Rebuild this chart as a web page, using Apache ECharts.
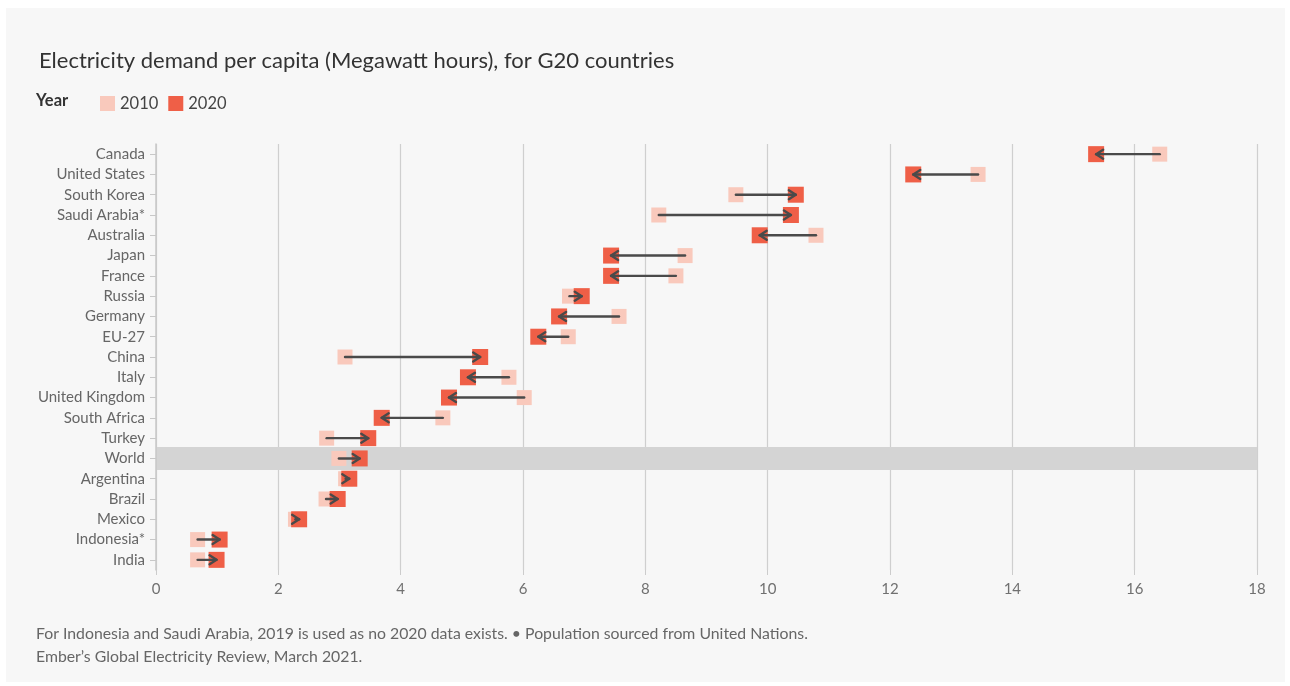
<!DOCTYPE html>
<html>
<head>
<meta charset="utf-8">
<script src="https://cdn.jsdelivr.net/npm/echarts@6/dist/echarts.min.js"></script>
<style>
html,body{margin:0;padding:0;background:#ffffff;}
#card{position:absolute;left:6px;top:8px;width:1279px;height:674px;background:#f7f7f7;}
#chart{position:absolute;left:0;top:0;width:1290px;height:686px;}
</style>
</head>
<body>
<div id="card"></div>
<div id="chart"></div>
<script>
const countries = ['Canada','United States','South Korea','Saudi Arabia*','Australia','Japan','France','Russia','Germany','EU-27','China','Italy','United Kingdom','South Africa','Turkey','World','Argentina','Brazil','Mexico','Indonesia*','India'];
const values2010 = [16.41,13.44,9.48,8.22,10.79,8.65,8.50,6.76,7.57,6.74,3.09,5.77,6.02,4.69,2.79,2.99,3.10,2.78,2.28,0.68,0.68];
const values2020 = [15.37,12.38,10.46,10.38,9.87,7.44,7.44,6.96,6.59,6.25,5.30,5.10,4.79,3.69,3.47,3.33,3.16,2.97,2.34,1.04,0.99];
const xTicks = [0,2,4,6,8,10,12,14,16,18];
const highlight = 'World';

const FONT = 'Lato, "Source Sans Pro", "Noto Sans", sans-serif';
const chart = echarts.init(document.getElementById('chart'), null, {renderer:'canvas'});

const pts2010 = countries.map((c,i)=>[values2010[i], c]);
const pts2020 = countries.map((c,i)=>[values2020[i], c]);
const arrows = countries.map((c,i)=>[values2010[i], c, values2020[i]]);

const option = {
  backgroundColor: 'transparent',
  animation: false,
  textStyle: {fontFamily: FONT},
  title: {
    text: 'Electricity demand per capita (Megawatt hours), for G20 countries',
    left: 34, top: 45,
    textStyle: {fontFamily: FONT, fontSize: 22, fontWeight: 'normal', color: '#333333'}
  },
  legend: {
    left: 95, top: 90,
    icon: 'rect', itemWidth: 15, itemHeight: 15, itemGap: 10, itemStyle: {opacity: 1},
    data: ['2010','2020'],
    textStyle: {fontFamily: FONT, fontSize: 16.5, color: '#444444'}
  },
  graphic: [
    {type:'text', left: 36, top: 92, style:{text:'Year', font:'bold 16.5px ' + FONT, fill:'#333333'}},
    {type:'text', left: 36, top: 626, style:{text:'For Indonesia and Saudi Arabia, 2019 is used as no 2020 data exists. \u2022 Population sourced from United Nations.', font:'15.8px ' + FONT, fill:'#666666'}},
    {type:'text', left: 36, top: 649, style:{text:'Ember\u2019s Global Electricity Review, March 2021.', font:'15.8px ' + FONT, fill:'#666666'}}
  ],
  grid: {left: 156, right: 33, top: 144, bottom: 116, containLabel: false},
  xAxis: {
    type: 'value', min: 0, max: 18, interval: 2,
    axisLine: {show: false},
    axisTick: {show: true, length: 5, lineStyle: {color: '#cccccc'}},
    axisLabel: {margin: 12, color: '#707070', fontFamily: FONT, fontSize: 15,
      formatter: v => xTicks.indexOf(v) >= 0 ? String(v) : ''},
    splitLine: {show: true, lineStyle: {color: '#cfcfcf', width: 1.2}}
  },
  yAxis: {
    type: 'category', data: countries, inverse: true,
    axisLine: {show: true, lineStyle: {color: '#c8c8c8', width: 1.5}},
    axisTick: {show: true, alignWithLabel: true, length: 6, lineStyle: {color: '#c8c8c8'}},
    axisLabel: {margin: 11, color: '#666666', fontFamily: FONT, fontSize: 15},
    splitLine: {show: false}
  },
  series: [
    {
      type: 'custom', name: 'band', silent: true, z: 1,
      data: [[0, highlight, 18]],
      encode: {x: 0, y: 1},
      renderItem: function(params, api){
        const p0 = api.coord([api.value(0), api.value(1)]);
        const p1 = api.coord([api.value(2), api.value(1)]);
        const h = 23;
        return {type:'rect', shape:{x:p0[0]+1, y:p0[1]-h/2, width:p1[0]-p0[0]-1, height:h}, style:{fill:'#d4d4d4'}};
      }
    },
    {
      type: 'scatter', name: '2010', z: 3,
      symbol: 'rect', symbolSize: 15,
      itemStyle: {color: '#f9c9bc', opacity: 1},
      data: pts2010
    },
    {
      type: 'scatter', name: '2020', z: 4,
      symbol: 'rect', symbolSize: 16,
      itemStyle: {color: '#ef5f47', opacity: 1},
      data: pts2020
    },
    {
      type: 'custom', name: 'arrows', silent: true, z: 5,
      data: arrows,
      encode: {x: [0, 2], y: 1},
      renderItem: function(params, api){
        const a = api.coord([api.value(0), api.value(1)]);
        const b = api.coord([api.value(2), api.value(1)]);
        const dir = b[0] >= a[0] ? 1 : -1;
        const hl = 7, hw = 4.5;
        const stroke = {stroke:'#4a4a4a', lineWidth:2.4, lineCap:'round', lineJoin:'round', fill:null};
        return {type:'group', children:[
          {type:'line', shape:{x1:a[0], y1:a[1], x2:b[0], y2:b[1]}, style:stroke},
          {type:'polyline', shape:{points:[[b[0]-dir*hl, b[1]-hw],[b[0], b[1]],[b[0]-dir*hl, b[1]+hw]]}, style:stroke}
        ]};
      }
    }
  ]
};
chart.setOption(option);
</script>
</body>
</html>
